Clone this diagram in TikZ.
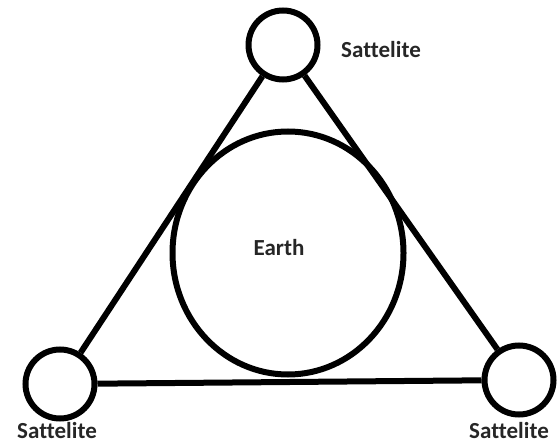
\documentclass[tikz,border=0pt]{standalone}
\usepackage{fontspec}
\setmainfont{Carlito}[Ligatures={NoCommon}]
\usetikzlibrary{shapes.geometric}
\begin{document}
\begin{tikzpicture}[x=1pt,y=-1pt,
  sat/.style={circle,draw,line width=6pt,minimum size=69pt,inner sep=0pt},
  earthstyle/.style={ellipse,draw,line width=6pt,minimum width=231pt,minimum height=243pt,inner sep=0pt},
  lbl/.style={font=\fontsize{23}{26}\selectfont\bfseries,text=black!85,inner sep=0pt},
  link/.style={line width=6pt}]
\useasboundingbox (0,0) rectangle (559,446);
\node[sat] (top) at (283,45) {};
\node[sat] (bl) at (60,384) {};
\node[sat] (br) at (519,380) {};
\node[earthstyle] (earth) at (288,253) {};
\node[lbl] (et) at (279,248) {Earth};
\node[lbl] (tl) at (381,50) {Sattelite};
\node[lbl] (bll) at (57,431) {Sattelite};
\node[lbl] (brl) at (509,431) {Sattelite};
\draw[link] (top) -- (bl);
\draw[link] (top) -- (br);
\draw[link] (bl) -- (br);
\end{tikzpicture}
\end{document}
